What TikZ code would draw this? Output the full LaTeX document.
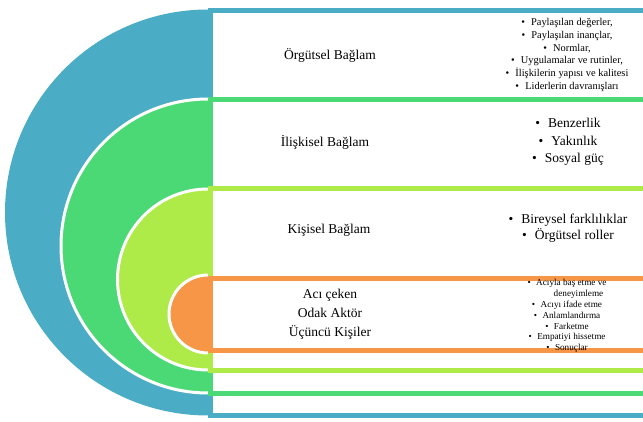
\documentclass[tikz,border=0pt]{standalone}
\usepackage{fontspec}
\setmainfont{Liberation Serif}
\definecolor{cblue}{HTML}{4BACC6}
\definecolor{cgreen}{HTML}{4AD975}
\definecolor{clime}{HTML}{AEEA48}
\definecolor{corange}{HTML}{F79646}
\newcommand\bul{\textbullet\hspace{0.6em}}
\begin{document}
\begin{tikzpicture}[x=1pt,y=1pt,
  ring/.style={draw=white,line width=3pt},
  band/.style={draw=#1,fill=white,line width=5pt},
  lbl/.style={align=center,inner sep=0pt,text=black,font=\fontsize{13.5}{19}\selectfont},
  lst/.style={align=center,inner sep=0pt,text=black}]
\useasboundingbox (0,0) rectangle (643,421);
\clip (0,0) rectangle (643,421);
% blue
\fill[cblue] (208,411.5) arc[start angle=90,end angle=270,radius=203] -- cycle;
\draw[band=cblue] (210.5,6) rectangle (680,410.5);
% green
\fill[cgreen] (208,322) arc[start angle=90,end angle=270,radius=147] -- cycle;
\draw[ring] (208,322) arc[start angle=90,end angle=270,radius=147];
\draw[band=cgreen] (210.5,28) rectangle (680,321.5);
% lime
\fill[clime] (208,232) arc[start angle=90,end angle=270,radius=90.5] -- cycle;
\draw[ring] (208,232) arc[start angle=90,end angle=270,radius=90.5];
\draw[band=clime] (210.5,51) rectangle (680,232);
% orange
\fill[corange] (208,146) arc[start angle=90,end angle=270,radius=39] -- cycle;
\draw[ring] (208,146) arc[start angle=90,end angle=270,radius=39];
\draw[band=corange] (210.5,71) rectangle (680,143);
% labels
\node[lbl] (t1) at (330,366) {Örgütsel Bağlam};
\node[lbl] (t2) at (325,279) {İlişkisel Bağlam};
\node[lbl] (t3) at (329,191) {Kişisel Bağlam};
\node[lbl] (t4) at (330,107) {Acı çeken\\Odak Aktör\\Üçüncü Kişiler};
% lists
\node[lst,font=\fontsize{10.4}{12.8}\selectfont] (l1) at (567,366)
  {\bul Paylaşılan değerler,\\\bul Paylaşılan inançlar,\\\bul Normlar,\\\bul Uygulamalar ve rutinler,\\\bul İlişkilerin yapısı ve kalitesi\\\bul Liderlerin davranışları};
\node[lst,font=\fontsize{13.5}{17.5}\selectfont] (l2) at (568,279)
  {\bul Benzerlik\\\bul Yakınlık\\\bul Sosyal güç};
\node[lst,font=\fontsize{13.5}{16.5}\selectfont] (l3) at (568,193)
  {\bul Bireysel farklılıklar\\\bul Örgütsel roller};
\node[lst,font=\fontsize{9.2}{10.8}\selectfont] (l4) at (567,105)
  {\bul Acıyla baş etme ve\\\hspace*{23pt}deneyimleme\\\bul Acıyı ifade etme\\\bul Anlamlandırma\\\bul Farketme\\\bul Empatiyi hissetme\\\bul Sonuçlar};
\end{tikzpicture}
\end{document}
